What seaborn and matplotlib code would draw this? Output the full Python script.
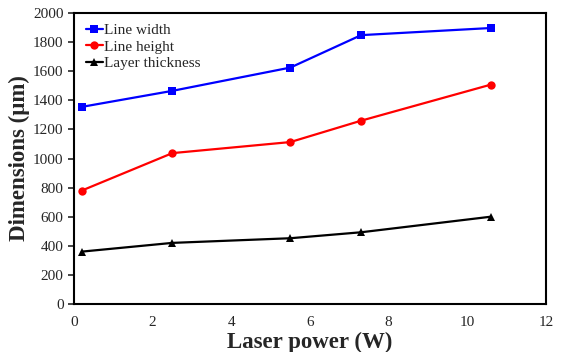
import matplotlib
matplotlib.use("Agg")
import matplotlib.pyplot as plt
import seaborn as sns
import pandas as pd

power = [0.2, 2.5, 5.5, 7.3, 10.6]
line_width = [1355, 1465, 1625, 1848, 1897]
line_height = [780, 1037, 1113, 1260, 1508]
layer_thickness = [360, 420, 452, 493, 600]

series = ["Line width", "Line height", "Layer thickness"]
colors = ["#0000ff", "#ff0000", "#000000"]
markers = ["s", "o", "^"]

df = pd.DataFrame({
    "power": power * 3,
    "value": line_width + line_height + layer_thickness,
    "series": [s for s in series for _ in power],
})

sns.set_style("white")
plt.rcParams["font.family"] = ["Liberation Serif", "DejaVu Serif"]

fig = plt.figure(figsize=(5.62, 3.52), dpi=100)
ax = fig.add_axes([0.1317, 0.1364, 0.8398, 0.8266])

sns.lineplot(data=df, x="power", y="value", hue="series", style="series",
             palette=dict(zip(series, colors)), markers=dict(zip(series, markers)),
             dashes=False, markersize=6, markeredgewidth=0, linewidth=1.6, ax=ax)

ax.set_xlim(0, 12)
ax.set_ylim(0, 2000)
ax.set_xticks(range(0, 13, 2))
ax.set_yticks(range(0, 2001, 200))
ax.tick_params(axis="x", direction="in", length=4, width=1.2, labelsize=11, pad=9)
ax.tick_params(axis="y", direction="out", length=4, width=1.2, labelsize=11, left=True)
for s in ax.spines.values():
    s.set_visible(True)
    s.set_color("black")
    s.set_linewidth(1.5)

ax.set_xlabel("Laser power (W)", fontsize=16.5, fontweight="bold", labelpad=2)
ax.set_ylabel("Dimensions (μm)", fontsize=16.5, fontweight="bold", labelpad=2)

leg = ax.legend(loc="upper left", bbox_to_anchor=(0.025, 0.965), frameon=False,
                fontsize=11, handlelength=1.1, handletextpad=0.1,
                labelspacing=0.2, borderaxespad=0, borderpad=0)

fig.savefig("out.png", dpi=100)
